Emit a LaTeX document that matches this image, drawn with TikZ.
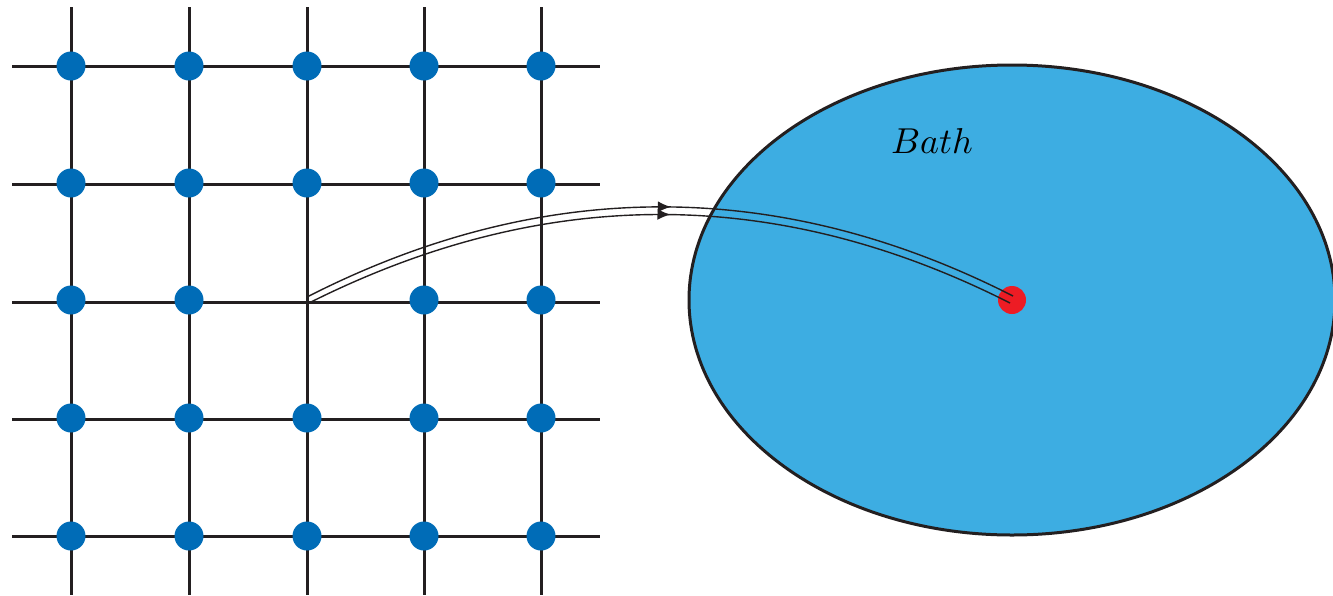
\documentclass[tikz,border=0pt]{standalone}
\usetikzlibrary{decorations.markings,arrows.meta,calc}
\definecolor{ink}{HTML}{231F20}
\definecolor{site}{HTML}{006CB7}
\definecolor{bathfill}{HTML}{3DADE2}
\definecolor{spot}{HTML}{ED1C24}
\tikzset{
  gridline/.style={draw=ink, line width=3pt},
  sitedot/.style={circle, fill=site, inner sep=0pt, minimum size=29pt},
  bathshape/.style={draw=ink, line width=3pt, fill=bathfill},
  spotdot/.style={circle, fill=spot, inner sep=0pt, minimum size=28pt},
  link/.style={draw=ink, line width=1.4pt,
    postaction={decorate},
    decoration={markings, mark=at position 0.515 with {\arrow{Latex[length=13pt,width=11pt]}}}},
}
\begin{document}
\begin{tikzpicture}[x=1pt,y=-1pt]
\useasboundingbox (0,0) rectangle (1333,595);
% lattice lines
\foreach \p in {71,189,307,424,541} {
  \draw[gridline] (\p,7) -- (\p,595);
  \draw[gridline] (12,\p-5) -- (600,\p-5);
}
% lattice sites (the centre site is the one coupled to the bath)
\coordinate (c) at (307,300);
\foreach \i/\x in {1/71,2/189,3/307,4/424,5/541} {
  \foreach \j/\y in {1/66,2/183,3/300,4/418,5/536} {
    \ifnum\i=3 \ifnum\j=3 \else
      \node[sitedot] (s\i\j) at (\x,\y) {};
    \fi \else
      \node[sitedot] (s\i\j) at (\x,\y) {};
    \fi
  }
}
% bath
\draw[bathshape] (1012,300) ellipse [x radius=323, y radius=235];
\node (bathlabel) at (932,141) {\scalebox{3.6}{$Bath$}};
\node[spotdot] (b) at (1012,300) {};
% coupling lines
\draw[link] ($(c)+(0,-3)$) .. controls ($(c)+(235,-123)$) and ($(b)+(-233,-123)$) .. ($(b)+(1,-4)$);
\draw[link] ($(c)+(2,3)$) .. controls ($(c)+(237,-115)$) and ($(b)+(-235,-115)$) .. ($(b)+(-2,3)$);
\end{tikzpicture}
\end{document}
